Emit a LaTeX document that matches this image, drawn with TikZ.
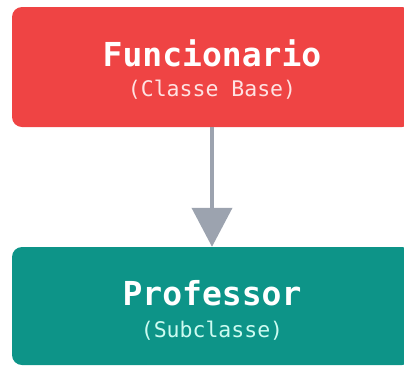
\documentclass[tikz,border=0pt]{standalone}
\usepackage{fontspec}
\setmonofont{DejaVu Sans Mono}
\usetikzlibrary{arrows.meta}
\definecolor{redbox}{HTML}{EF4444}
\definecolor{tealbox}{HTML}{0D9488}
\definecolor{arrowgray}{HTML}{9CA3AF}
\definecolor{redsub}{HTML}{FEE2E2}
\definecolor{tealsub}{HTML}{CCFBF1}
\tikzset{
  classbox/.style={draw=none, rounded corners=10pt, minimum width=400pt, inner sep=0pt},
  title/.style={font=\ttfamily\bfseries\fontsize{33}{33}\selectfont, text=white, anchor=base, inner sep=0pt},
  subtitle/.style={font=\ttfamily\fontsize{21.5}{21.5}\selectfont, anchor=base, inner sep=0pt},
  inherit/.style={draw=arrowgray, line width=4pt, -{Triangle[width=40pt,length=39pt]}}
}
\begin{document}
\begin{tikzpicture}[x=1pt,y=-1pt]
\useasboundingbox (0,0) rectangle (404,365);
\clip (0,0) rectangle (404,365);
\node[classbox, fill=redbox, minimum height=120pt] (base) at (212,67) {};
\node[classbox, fill=tealbox, minimum height=118pt] (sub) at (212,306) {};
\node[title] (baset) at (212,66) {Funcionario};
\node[subtitle, text=redsub] (bases) at (212,96) {(Classe Base)};
\node[title] (subt) at (212,305) {Professor};
\node[subtitle, text=tealsub] (subs) at (212,337) {(Subclasse)};
\draw[inherit] (base.south) -- (sub.north);
\end{tikzpicture}
\end{document}
